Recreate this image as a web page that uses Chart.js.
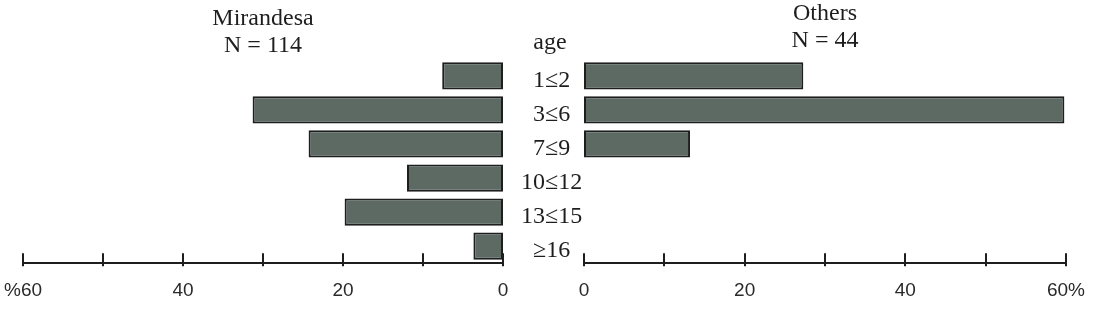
<!DOCTYPE html>
<html>
<head>
<meta charset="utf-8">
<script src="https://cdn.jsdelivr.net/npm/chart.js@4/dist/chart.umd.min.js"></script>
<style>
  body { margin: 0; background: #fff; }
  #wrap { position: relative; width: 1098px; height: 318px; overflow: hidden; }
  canvas { position: absolute; top: 0; }
  #leftChart { left: 0; }
  #rightChart { left: 560px; }
</style>
</head>
<body>
<div id="wrap">
  <canvas id="leftChart" width="600" height="318"></canvas>
  <canvas id="rightChart" width="538" height="318"></canvas>
</div>
<script>
const ageGroups = ["1≤2", "3≤6", "7≤9", "10≤12", "13≤15", "≥16"];
const mirandesaPct = [7.6, 31.3, 24.3, 12.0, 19.8, 3.7];
const othersPct = [27.3, 59.8, 13.2, 0, 0, 0];
const leftTitle = ["Mirandesa", "N = 114"];
const rightTitle = ["Others", "N = 44"];
const ageLabel = "age";

const barFill = "#5d6a64";
const ink = "#1e1e1e";
const serif = "'Liberation Serif', 'Times New Roman', serif";
const sans = "'Liberation Sans', Arial, sans-serif";

// tick marks crossing the axis line (above and a little below)
const crossTicks = {
  id: "crossTicks",
  afterDraw(chart) {
    const x = chart.scales.x;
    const ctx = chart.ctx;
    ctx.save();
    ctx.strokeStyle = ink;
    ctx.lineWidth = 2;
    x.ticks.forEach(t => {
      const px = Math.round(x.getPixelForValue(t.value));
      ctx.beginPath();
      ctx.moveTo(px, x.top - 10);
      ctx.lineTo(px, x.top + 3);
      ctx.stroke();
    });
    ctx.restore();
  }
};

// "age" heading above the category labels
const ageHeading = {
  id: "ageHeading",
  afterDraw(chart) {
    const y = chart.scales.y;
    const ctx = chart.ctx;
    ctx.save();
    ctx.font = "24px " + serif;
    ctx.fillStyle = ink;
    ctx.textAlign = "center";
    ctx.textBaseline = "middle";
    ctx.fillText(ageLabel, y.left + 47, chart.chartArea.top - 16);
    ctx.restore();
  }
};

function xAxis(reverse, topLabel) {
  return {
    type: "linear",
    reverse: reverse,
    min: 0,
    max: 60,
    grid: { display: false, drawTicks: false },
    border: { display: true, color: ink, width: 2 },
    // let the layout padding alone decide where the axis ends
    afterFit(scale) { scale.paddingLeft = 0; scale.paddingRight = 0; },
    ticks: {
      stepSize: 10,
      autoSkip: false,
      maxRotation: 0,
      padding: 16,
      color: "#2a2a2a",
      font: { family: sans, size: 19 },
      callback: v => (v === 60 ? topLabel : v % 20 === 0 ? String(v) : "")
    }
  };
}

function titleOpts(text, padTop, padBottom) {
  return {
    display: true,
    text: text,
    fullSize: false,
    color: ink,
    font: { family: serif, size: 24, weight: "normal", lineHeight: 1.1 },
    padding: { top: padTop, bottom: padBottom }
  };
}

function dataset(values) {
  return {
    data: values,
    backgroundColor: barFill,
    borderColor: ink,
    borderWidth: 2,
    borderSkipped: false,
    barPercentage: 0.8,
    categoryPercentage: 1.0
  };
}

// Mirandesa (left, reversed)
new Chart(document.getElementById("leftChart").getContext("2d"), {
  type: "bar",
  data: { labels: ageGroups, datasets: [dataset(mirandesaPct)] },
  options: {
    indexAxis: "y",
    responsive: false,
    animation: false,
    layout: { padding: { left: 23, right: 16, top: 0, bottom: 0 } },
    plugins: {
      legend: { display: false },
      tooltip: { enabled: false },
      title: titleOpts(leftTitle, 6, 0)
    },
    scales: {
      x: xAxis(true, "%60"),
      y: {
        position: "right",
        grid: { display: false, drawTicks: false },
        border: { display: false },
        afterFit(scale) { scale.width = 81; },
        ticks: {
          autoSkip: false,
          crossAlign: "center",
          padding: 18,
          labelOffset: 5,
          color: ink,
          font: { family: serif, size: 24 }
        }
      }
    }
  },
  plugins: [crossTicks, ageHeading]
});

// Others (right)
new Chart(document.getElementById("rightChart").getContext("2d"), {
  type: "bar",
  data: { labels: ageGroups, datasets: [dataset(othersPct)] },
  options: {
    indexAxis: "y",
    responsive: false,
    animation: false,
    layout: { padding: { left: 24, right: 32, top: 0, bottom: 0 } },
    plugins: {
      legend: { display: false },
      tooltip: { enabled: false },
      title: titleOpts(rightTitle, 1, 5)
    },
    scales: {
      x: xAxis(false, "60%"),
      y: { display: false }
    }
  },
  plugins: [crossTicks]
});
</script>
</body>
</html>
